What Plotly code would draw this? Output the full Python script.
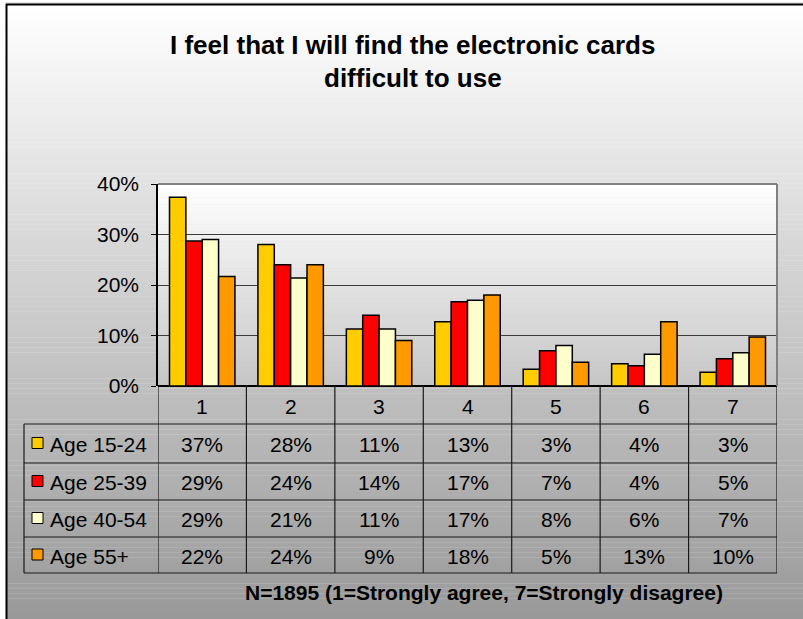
import plotly.graph_objects as go

categories = ["1", "2", "3", "4", "5", "6", "7"]
series_names = ["Age 15-24", "Age 25-39", "Age 40-54", "Age 55+"]
age_15_24 = [37.4, 28.0, 11.3, 12.7, 3.3, 4.4, 2.7]
age_25_39 = [28.7, 24.0, 14.0, 16.7, 7.0, 4.0, 5.4]
age_40_54 = [29.0, 21.4, 11.3, 17.0, 8.0, 6.3, 6.6]
age_55_plus = [21.7, 24.0, 9.0, 18.0, 4.7, 12.7, 9.7]
series_values = [age_15_24, age_25_39, age_40_54, age_55_plus]
colors = ["#FFCC00", "#FF0000", "#FFFFCC", "#FF9900"]
y_ticks = [0, 10, 20, 30, 40]
y_tick_labels = ["0%", "10%", "20%", "30%", "40%"]
title_lines = ["I feel that I will find the electronic cards", "difficult to use"]
footnote = "N=1895 (1=Strongly agree, 7=Strongly disagree)"

W, H = 803, 619
FONT = "Liberation Sans, Arial, sans-serif"
TXT = 21


def px(x):
    return x / W


def py(y):
    return 1 - y / H


# plot area in pixels
PL, PR, PT, PB = 158, 777, 184, 386
# table rows (pixels)
row_lines = [424, 463, 500, 537, 573]
TABLE_LEFT = 24

fig = go.Figure()
for name, vals, col in zip(series_names, series_values, colors):
    fig.add_trace(go.Bar(
        x=list(range(len(categories))), y=vals, name=name,
        marker=dict(color=col, line=dict(color="black", width=1.5)),
        showlegend=False, hoverinfo="y",
    ))

shapes = []
# outer gradient background
N = 120
top, bot = 4, H
for i in range(N):
    y0 = top + (bot - top) * i / N
    y1 = top + (bot - top) * (i + 1) / N
    t = (i + 0.5) / N
    g = int(round(255 - t * (255 - 153)))
    shapes.append(dict(type="rect", xref="paper", yref="paper", x0=px(6), x1=px(W),
                       y0=py(y0), y1=py(y1) - 0.0005, fillcolor=f"rgb({g},{g},{g})",
                       line=dict(width=0), layer="below"))
# plot area gradient
N2 = 60
for i in range(N2):
    y0 = PT + (PB - PT) * i / N2
    y1 = PT + (PB - PT) * (i + 1) / N2
    t = (i + 0.5) / N2
    g = int(round(255 - t * (255 - 198)))
    shapes.append(dict(type="rect", xref="paper", yref="paper", x0=px(PL), x1=px(PR),
                       y0=py(y0), y1=py(y1) - 0.0005, fillcolor=f"rgb({g},{g},{g})",
                       line=dict(width=0), layer="below"))
# outer border (left and top)
shapes.append(dict(type="line", xref="paper", yref="paper", x0=px(5), x1=px(W), y0=py(3), y1=py(3),
                   line=dict(color="#c8c8c8", width=1)))
shapes.append(dict(type="line", xref="paper", yref="paper", x0=px(6), x1=px(W), y0=py(4.5), y1=py(4.5),
                   line=dict(color="black", width=2)))
shapes.append(dict(type="line", xref="paper", yref="paper", x0=px(6.5), x1=px(6.5), y0=py(4), y1=py(H),
                   line=dict(color="black", width=2)))
# plot area top/right border
shapes.append(dict(type="line", xref="paper", yref="paper", x0=px(PL), x1=px(PR), y0=py(PT), y1=py(PT),
                   line=dict(color="#808080", width=2)))
shapes.append(dict(type="line", xref="paper", yref="paper", x0=px(PR), x1=px(PR), y0=py(PT), y1=py(PB),
                   line=dict(color="#808080", width=2)))
# table lines
for k, yl in enumerate(row_lines):
    shapes.append(dict(type="line", xref="paper", yref="paper", x0=px(TABLE_LEFT), x1=px(PR),
                       y0=py(yl), y1=py(yl), line=dict(color="#1a1a1a", width=1.2)))
shapes.append(dict(type="line", xref="paper", yref="paper", x0=px(TABLE_LEFT), x1=px(TABLE_LEFT),
                   y0=py(row_lines[0]), y1=py(row_lines[-1]), line=dict(color="#1a1a1a", width=1.2)))
for i in range(len(categories) + 1):
    shapes.append(dict(type="line", xref="x", yref="paper", x0=i - 0.5, x1=i - 0.5,
                       y0=py(PB), y1=py(row_lines[-1]), line=dict(color="#1a1a1a", width=1.2)))

annotations = []
annotations.append(dict(text=f"<b>{title_lines[0]}</b>", xref="paper", yref="paper", x=px(413), y=py(45),
                        showarrow=False, font=dict(family=FONT, size=26, color="black"),
                        xanchor="center", yanchor="middle"))
annotations.append(dict(text=f"<b>{title_lines[1]}</b>", xref="paper", yref="paper", x=px(413), y=py(78),
                        showarrow=False, font=dict(family=FONT, size=26, color="black"),
                        xanchor="center", yanchor="middle"))
annotations.append(dict(text=f"<b>{footnote}</b>", xref="paper", yref="paper", x=px(484), y=py(592),
                        showarrow=False, font=dict(family=FONT, size=21, color="black"),
                        xanchor="center", yanchor="middle"))
# header row
hdr_c = (PB + row_lines[0]) / 2
for i, c in enumerate(categories):
    annotations.append(dict(text=c, xref="x", yref="paper", x=i, y=py(hdr_c + 1), showarrow=False,
                            font=dict(family=FONT, size=TXT, color="black"), xanchor="center", yanchor="middle"))
# data rows
for r, (name, vals, col) in enumerate(zip(series_names, series_values, colors)):
    yc = (row_lines[r] + row_lines[r + 1]) / 2
    for i, v in enumerate(vals):
        annotations.append(dict(text=f"{round(v):d}%", xref="x", yref="paper", x=i, y=py(yc + 1),
                                showarrow=False, font=dict(family=FONT, size=TXT, color="black"),
                                xanchor="center", yanchor="middle"))
    annotations.append(dict(text=name, xref="paper", yref="paper", x=px(48), y=py(yc + 1), showarrow=False,
                            font=dict(family=FONT, size=TXT, color="black"), xanchor="left", yanchor="middle"))
    shapes.append(dict(type="rect", xref="paper", yref="paper", x0=px(32), x1=px(43),
                       y0=py(yc + 5), y1=py(yc - 6), fillcolor=col, line=dict(color="black", width=1)))

fig.update_layout(
    width=W, height=H,
    margin=dict(l=0, r=0, t=0, b=0, pad=0, autoexpand=False),
    paper_bgcolor="white", plot_bgcolor="rgba(0,0,0,0)",
    barmode="group", bargap=0.26, bargroupgap=0,
    xaxis=dict(domain=[px(PL), px(PR)], range=[-0.5, len(categories) - 0.5], showticklabels=False,
               showgrid=False, zeroline=False, showline=False, ticks="", automargin=False),
    yaxis=dict(domain=[py(PB), py(PT)], range=[0, 40], tickvals=y_ticks, ticktext=y_tick_labels,
               showgrid=True, gridcolor="#3c3c3c", gridwidth=1, zeroline=True, zerolinecolor="black",
               zerolinewidth=1.5, showline=True, linecolor="black", linewidth=1.5, ticks="outside",
               ticklen=5, tickcolor="black", ticklabelstandoff=8, automargin=False,
               tickfont=dict(family=FONT, size=TXT, color="black")),
    shapes=shapes, annotations=annotations,
    font=dict(family=FONT),
)

fig.write_html("out.html", config={"responsive": False, "displayModeBar": False},
               post_script="document.body.style.margin='0';document.body.style.overflow='hidden';")
